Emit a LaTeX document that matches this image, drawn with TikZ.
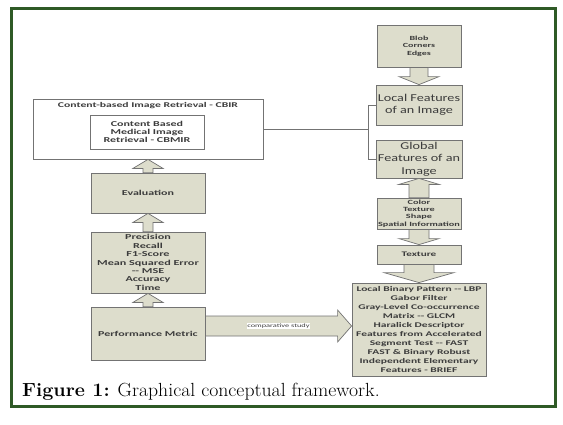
\documentclass[tikz,border=0pt]{standalone}
\usepackage{fontspec}
\usetikzlibrary{calc}
\newfontfamily\bxfont[FakeStretch=1.6]{Carlito}
\newfontfamily\lgfont[FakeStretch=1.35]{Carlito}
\definecolor{framegreen}{RGB}{47,90,38}
\definecolor{boxfill}{RGB}{221,221,204}
\definecolor{boxline}{RGB}{115,115,115}
\definecolor{txt}{RGB}{60,60,60}
\newcommand{\varr}[5]{%
  \draw[barrow] let \p1=(#1), \p2=(#2), \n1={(\y2-\y1)/abs(\y2-\y1)} in
   ({\x1-#3pt},\y1) -- ({\x1-#3pt},{\y2-(\n1)*#5pt}) -- ({\x1-#4pt},{\y2-(\n1)*#5pt}) -- (\x1,\y2)
   -- ({\x1+#4pt},{\y2-(\n1)*#5pt}) -- ({\x1+#3pt},{\y2-(\n1)*#5pt}) -- ({\x1+#3pt},\y1) -- cycle;}
\newcommand{\harr}[5]{%
  \draw[barrow] let \p1=(#1), \p2=(#2), \n1={(\x2-\x1)/abs(\x2-\x1)} in
   (\x1,{\y1-#3pt}) -- ({\x2-(\n1)*#5pt},{\y1-#3pt}) -- ({\x2-(\n1)*#5pt},{\y1-#4pt}) -- (\x2,\y1)
   -- ({\x2-(\n1)*#5pt},{\y1+#4pt}) -- ({\x2-(\n1)*#5pt},{\y1+#3pt}) -- (\x1,{\y1+#3pt}) -- cycle;}
\begin{document}
\begin{tikzpicture}[x=1pt,y=-1pt,
  fbox/.style={draw=boxline, fill=boxfill, line width=0.8pt, inner sep=0pt, align=center,
    text=txt, font=\bxfont\bfseries\fontsize{7.5}{8.5}\selectfont},
  wbox/.style={fbox, fill=white},
  bigtxt/.style={font=\lgfont\fontsize{10.5}{12.5}\selectfont},
  barrow/.style={draw=boxline, fill=boxfill, line width=0.7pt, line join=miter},
  conn/.style={draw=boxline, line width=0.8pt}]
\useasboundingbox (0,0) rectangle (563,424);
\fill[white] (0,0) rectangle (563,424);
\draw[line width=3pt, framegreen] (11,8) rectangle (555,406);

% left column
\node[wbox, minimum width=230pt, minimum height=60pt] (cbir) at (148,129) {};
\node[text=txt, font=\bxfont\bfseries\fontsize{7.3}{8}\selectfont, inner sep=0pt] (cbirt) at (148,106) {Content-based Image Retrieval - CBIR};
\node[wbox, minimum width=114pt, minimum height=34pt, font=\bxfont\bfseries\fontsize{7.5}{8}\selectfont] (cbmir) at (147,132) {Content Based\\Medical Image\\Retrieval - CBMIR};
\node[fbox, minimum width=114pt, minimum height=40pt] (eval) at (148,193) {Evaluation};
\node[fbox, minimum width=114pt, minimum height=61pt, font=\bxfont\bfseries\fontsize{7.6}{8.4}\selectfont] (prec) at (148,262.5) {Precision\\Recall\\F1-Score\\Mean Squared Error\\-- MSE\\Accuracy\\Time};
\node[fbox, minimum width=114pt, minimum height=53pt] (perf) at (148,333.5) {Performance Metric};

% right column
\node[fbox, minimum width=84pt, minimum height=42pt, font=\bxfont\bfseries\fontsize{6.3}{7.6}\selectfont] (blob) at (419,46) {Blob\\Corners\\Edges};
\node[fbox, bigtxt, minimum width=86pt, minimum height=40pt] (local) at (419,105) {Local Features\\of an Image};
\node[fbox, bigtxt, minimum width=86pt, minimum height=38pt] (global) at (419,159) {Global\\Features of an\\Image};
\node[fbox, minimum width=84pt, minimum height=31pt, font=\bxfont\bfseries\fontsize{6.4}{7.3}\selectfont] (color) at (419,213.5) {Color\\Texture\\Shape\\Spatial Information};
\node[fbox, minimum width=84pt, minimum height=19pt, font=\bxfont\bfseries\fontsize{7}{8}\selectfont] (texture) at (419,254.5) {Texture};
\node[fbox, minimum width=134pt, minimum height=93pt, font=\bxfont\bfseries\fontsize{7.2}{9.1}\selectfont] (big) at (419,329.5) {Local Binary Pattern -- LBP\\Gabor Filter\\Gray-Level Co-occurrence\\Matrix -- GLCM\\Haralick Descriptor\\Features from Accelerated\\Segment Test -- FAST\\FAST \& Binary Robust\\Independent Elementary\\Features - BRIEF};

% block arrows
\varr{eval.north}{cbir.south}{5}{15}{9}
\varr{prec.north}{eval.south}{5}{15}{9}
\varr{perf.north}{prec.south}{5}{15}{9}
\varr{blob.south}{local.north}{9}{20}{8}
\varr{color.north}{global.south}{10}{20}{6}
\varr{color.south}{texture.north}{10}{20}{6}
\varr{texture.south}{big.north}{15}{35}{10}

\coordinate (cs) at ([yshift=7.5pt]perf.east);
\coordinate (ce) at (big.west |- cs);
\harr{cs}{ce}{10}{16}{14}
\node[fill=white, inner sep=0.6pt, text=txt, font=\bxfont\fontsize{5.2}{6}\selectfont] (cst) at ($(cs)!0.5!(ce)$) {comparative study};

% bracket connector
\coordinate (bx) at (368,129);
\draw[conn] (cbir.east) -- (cbir.east -| bx);
\draw[conn] (local.west) -- (local.west -| bx) -- (global.west -| bx) -- (global.west);

% caption
\node[anchor=base west, inner sep=0pt, font=\fontsize{19}{21}\selectfont] (cap) at (22,396) {\scalebox{1.04}[1]{\textbf{Figure 1:} Graphical conceptual framework.}};
\end{tikzpicture}
\end{document}
